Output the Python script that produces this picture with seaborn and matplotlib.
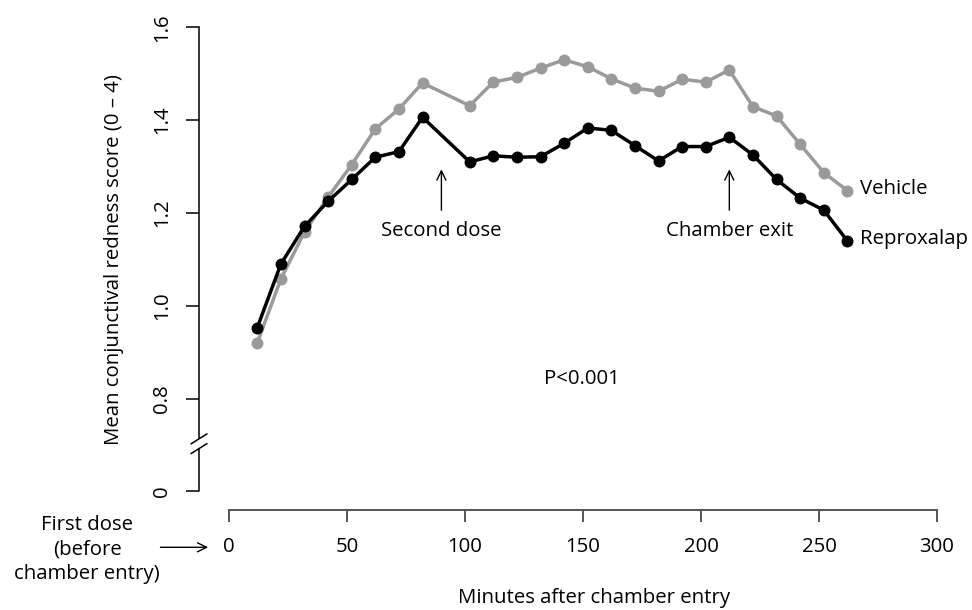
import numpy as np
import pandas as pd
import seaborn as sns
import matplotlib.pyplot as plt
import matplotlib.transforms as mtransforms
from matplotlib.lines import Line2D

# time points (minutes after chamber entry); no reading at 92 min (second dose)
minutes = [12, 22, 32, 42, 52, 62, 72, 82, 102, 112, 122, 132, 142, 152,
           162, 172, 182, 192, 202, 212, 222, 232, 242, 252, 262]
vehicle = [0.920, 1.058, 1.159, 1.234, 1.304, 1.381, 1.424, 1.480, 1.431,
           1.482, 1.492, 1.512, 1.530, 1.515, 1.489, 1.469, 1.462, 1.488,
           1.482, 1.508, 1.429, 1.409, 1.348, 1.287, 1.248]
reproxalap = [0.953, 1.090, 1.171, 1.225, 1.272, 1.320, 1.332, 1.406, 1.310,
              1.323, 1.320, 1.321, 1.350, 1.383, 1.378, 1.345, 1.312, 1.343,
              1.343, 1.363, 1.325, 1.272, 1.232, 1.206, 1.140]
groups = ['Vehicle', 'Reproxalap']
colors = {'Vehicle': '#9a9a9a', 'Reproxalap': 'black'}

x_ticks = [0, 50, 100, 150, 200, 250, 300]
y_ticks = [0.6, 0.8, 1.0, 1.2, 1.4, 1.6]
y_ticklabels = ['0', '0.8', '1.0', '1.2', '1.4', '1.6']

df = pd.concat([
    pd.DataFrame({'minute': minutes, 'score': vehicle, 'group': 'Vehicle'}),
    pd.DataFrame({'minute': minutes, 'score': reproxalap, 'group': 'Reproxalap'}),
])

FS = 14.7
sns.set_style('ticks')
plt.rcParams['font.family'] = ['Open Sans', 'DejaVu Sans']
plt.rcParams['font.size'] = FS
plt.rcParams['text.color'] = 'black'
plt.rcParams['axes.labelcolor'] = 'black'
plt.rcParams['xtick.labelcolor'] = 'black'
plt.rcParams['ytick.labelcolor'] = 'black'

W, H = 972, 610
fig = plt.figure(figsize=(W / 100, H / 100), dpi=100)
ax = fig.add_axes([229 / W, 1 - 491.3 / H, 708 / W, 464 / H])

sns.lineplot(data=df, x='minute', y='score', hue='group', hue_order=groups,
             palette=colors, marker='o', markersize=8.6, markeredgewidth=0,
             linewidth=2.5, errorbar=None, legend=False, ax=ax)

ax.set_xlim(0, 300)
ax.set_ylim(0.6, 1.6)
ax.set_xticks(x_ticks)
ax.set_yticks(y_ticks)
ax.set_yticklabels(y_ticklabels)

sns.despine(ax=ax)
ax.spines['left'].set_position(('outward', 30 * 0.72))
ax.spines['bottom'].set_position(('outward', 19 * 0.72))
ax.spines['left'].set_bounds(0.715, 1.6)
ax.spines['left'].set_color('black')
ax.spines['bottom'].set_color('#555555')
ax.spines['left'].set_linewidth(1.1)
ax.spines['bottom'].set_linewidth(1.4)
ax.tick_params(axis='y', length=9.4, width=1.1, color='black', pad=10,
               labelrotation=90, labelsize=FS, labelcolor='black')
ax.tick_params(axis='x', length=8.5, width=1.4, color='#555555', pad=11,
               labelsize=FS, labelcolor='black')
for lab in ax.get_yticklabels():
    lab.set_verticalalignment('center')

ax.set_xlabel('Minutes after chamber entry', fontsize=FS, color='black')
ax.xaxis.set_label_coords((594 - 229) / 708, (491.3 - 598) / 464)
ax.xaxis.label.set_verticalalignment('center')
ax.set_ylabel('Mean conjunctival redness score (0 \u2013 4)', fontsize=FS,
              color='black')
ax.yaxis.set_label_coords((114 - 229) / 708, (491.3 - 260) / 464)
ax.yaxis.label.set_verticalalignment('center')

# lower piece of the broken y axis and the break marks
off = mtransforms.ScaledTranslation(-30 / 100, 0, fig.dpi_scale_trans)
ax.plot([0, 0], [0.6, 0.692], color='black', lw=1.1,
        transform=ax.get_yaxis_transform() + off, clip_on=False)
fig.canvas.draw()
x0 = ax.transAxes.transform((0, 0))[0] - 30
for yc in [0.692, 0.713]:
    yd = ax.transData.transform((0, yc))[1]
    fig.add_artist(Line2D([x0 - 8, x0 + 8], [yd - 5, yd + 5], color='black',
                          lw=1.1, transform=mtransforms.IdentityTransform()))

arrow = dict(arrowstyle='->,head_length=0.45,head_width=0.22', lw=1.0, color='black')
ax.annotate('', xy=(90, 1.300), xytext=(90, 1.200), arrowprops=arrow)
ax.text(90, 1.160, 'Second dose', ha='center', va='center')
ax.annotate('', xy=(212, 1.300), xytext=(212, 1.200), arrowprops=arrow)
ax.text(212, 1.160, 'Chamber exit', ha='center', va='center')

ax.text(267.5, 1.252, 'Vehicle', ha='left', va='center')
ax.text(267.5, 1.143, 'Reproxalap', ha='left', va='center')
ax.text(149.5, 0.843, 'P<0.001', ha='center', va='center')

fig.text(87 / W, 1 - 549.5 / H, 'First dose\n(before\nchamber entry)',
         ha='center', va='center', linespacing=1.27)
ax.annotate('', xy=(211, H - 547.3), xycoords='figure pixels',
            xytext=(157.7, H - 547.3), textcoords='figure pixels',
            arrowprops=arrow, annotation_clip=False)

fig.savefig('out.png', dpi=100)
